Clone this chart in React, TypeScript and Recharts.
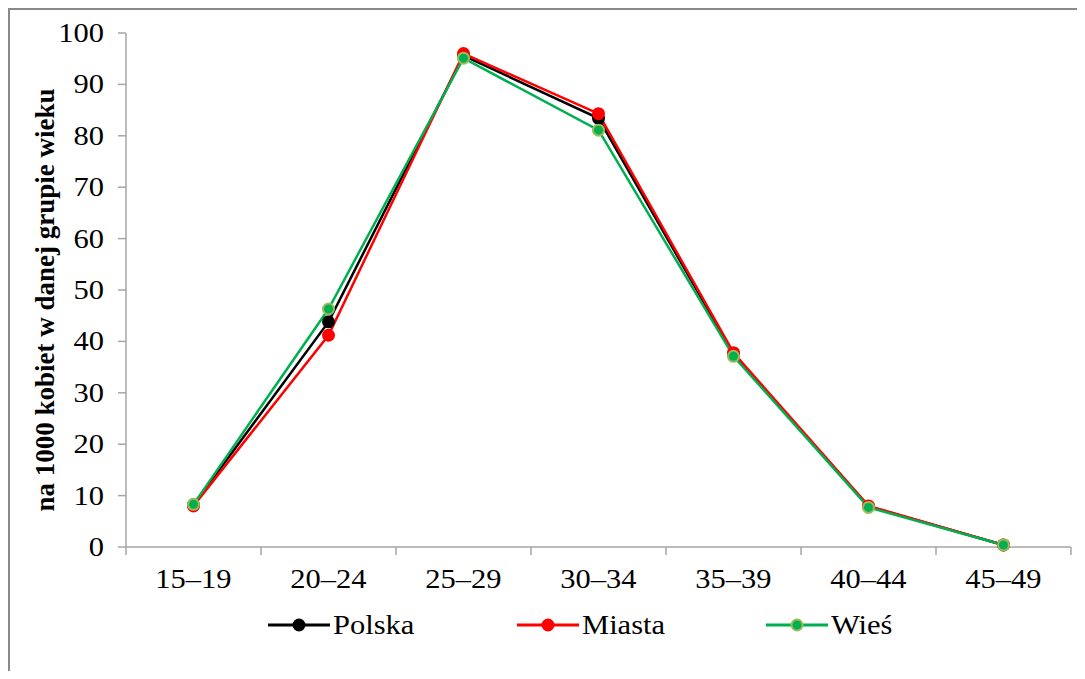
import { Legend, Line, LineChart, XAxis, YAxis } from "recharts";

const ageGroups = ["15–19", "20–24", "25–29", "30–34", "35–39", "40–44", "45–49"];
const polska = [8.2, 43.8, 95.6, 83.4, 37.5, 7.9, 0.4];
const miasta = [8.0, 41.2, 96.0, 84.3, 37.8, 8.0, 0.4];
const wies = [8.3, 46.3, 95.1, 81.1, 37.1, 7.7, 0.4];
const yTicks = [0, 10, 20, 30, 40, 50, 60, 70, 80, 90, 100];

const data = ageGroups.map((g, i) => ({
  group: g,
  polska: polska[i],
  miasta: miasta[i],
  wies: wies[i],
}));

const FONT = "'Liberation Serif', 'Times New Roman', serif";
const AXIS = "#a6a6a6";
const STRETCH = 1.13; // reference text is a bit wider than Times
const txt = { fontFamily: FONT, fontSize: 27, fill: "#000" };

const series = [
  { key: "polska", name: "Polska", color: "#000000", dotStroke: "#000000" },
  { key: "miasta", name: "Miasta", color: "#ff0000", dotStroke: "#ff0000" },
  { key: "wies", name: "Wieś", color: "#00b050", dotStroke: "#9bbb59" },
];

function XTick(props: any) {
  const { x, y, payload } = props;
  const off = payload?.offset ?? 67.7;
  const last = payload?.value === ageGroups[ageGroups.length - 1];
  return (
    <g>
      <line x1={x - off} x2={x - off} y1={y - 8} y2={y} stroke={AXIS} strokeWidth={1.5} />
      {last && <line x1={x + off} x2={x + off} y1={y - 8} y2={y} stroke={AXIS} strokeWidth={1.5} />}
      <text transform={`translate(${x},${y + 33}) scale(${STRETCH},1)`} textAnchor="middle" style={txt}>
        {payload.value}
      </text>
    </g>
  );
}

function YTick(props: any) {
  const { x, y, payload } = props;
  return (
    <text transform={`translate(${x},${y + 9}) scale(${STRETCH},1)`} textAnchor="end" style={txt}>
      {payload.value}
    </text>
  );
}

function LegendBox() {
  return (
    <div style={{ height: 40, display: "flex", alignItems: "center", paddingLeft: 258 }}>
      {series.map((s) => (
        <div key={s.key} style={{ width: 249, display: "flex", alignItems: "center" }}>
          <svg width={62} height={20} style={{ marginRight: 3 }}>
            <line x1={0} x2={62} y1={10} y2={10} stroke={s.color} strokeWidth={3} />
            <circle cx={31} cy={10} r={5.5} fill={s.color} stroke={s.dotStroke} strokeWidth={2} />
          </svg>
          <span
            style={{
              fontFamily: FONT,
              fontSize: 27,
              color: "#000",
              display: "inline-block",
              transform: `scaleX(${STRETCH})`,
              transformOrigin: "left center",
            }}
          >
            {s.name}
          </span>
        </div>
      ))}
    </div>
  );
}

export default function App() {
  return (
    <div
      style={{
        width: 1069,
        height: 663,
        overflow: "hidden",
        borderTop: "2px solid #8a8a8a",
        borderLeft: "2px solid #8a8a8a",
        boxSizing: "border-box",
        fontFamily: FONT,
      }}
    >
      <LineChart
        width={1069}
        height={661}
        data={data}
        margin={{ top: 23, right: 8, left: 0, bottom: 26 }}
      >
        <XAxis
          dataKey="group"
          scale="band"
          interval={0}
          stroke={AXIS}
          strokeWidth={1.5}
          tickLine={false}
          tickSize={8}
          tickMargin={0}
          height={58}
          tick={<XTick />}
        />
        <YAxis
          domain={[0, 100]}
          ticks={yTicks}
          interval={0}
          width={116}
          stroke={AXIS}
          strokeWidth={1.5}
          tickSize={8}
          tickMargin={14}
          tick={<YTick />}
          label={{
            value: "na 1000 kobiet w danej grupie wieku",
            angle: -90,
            position: "center",
            dx: -24,
            dy: 10,
            style: { fontWeight: "bold", fontSize: 27, fontFamily: FONT, fill: "#000" },
          }}
        />
        <Legend verticalAlign="bottom" content={<LegendBox />} />
        {series.map((s) => (
          <Line
            key={s.key}
            dataKey={s.key}
            name={s.name}
            stroke={s.color}
            strokeWidth={2.5}
            dot={{ r: 5.5, fill: s.color, stroke: s.dotStroke, strokeWidth: 2 }}
            isAnimationActive={false}
          />
        ))}
      </LineChart>
    </div>
  );
}
